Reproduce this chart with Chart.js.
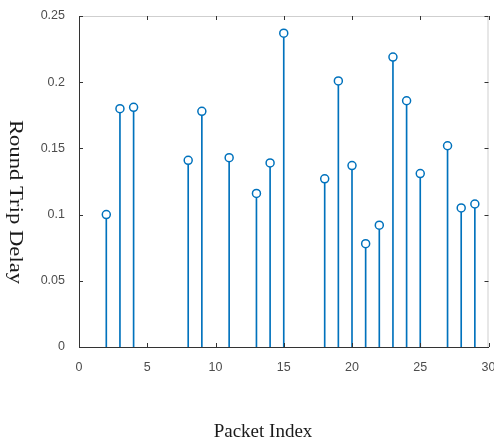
<!DOCTYPE html>
<html>
<head>
<meta charset="utf-8">
<script src="https://cdn.jsdelivr.net/npm/chart.js@4/dist/chart.umd.min.js"></script>
<style>
  html, body { margin: 0; padding: 0; background: #fff; }
  #wrap { width: 494px; height: 441px; }
</style>
</head>
<body>
<div id="wrap"><canvas id="stemChart" width="494" height="441"></canvas></div>
<script>
// packet index on x, round trip delay on y
const packetIndex = [2, 3, 4, 8, 9, 11, 13, 14, 15, 18, 19, 20, 21, 22, 23, 24, 25, 27, 28, 29];
const roundTripDelay = [0.100, 0.180, 0.181, 0.141, 0.178, 0.143, 0.116, 0.139, 0.237, 0.127,
                        0.201, 0.137, 0.078, 0.092, 0.219, 0.186, 0.131, 0.152, 0.105, 0.108];
const xTicks = [0, 5, 10, 15, 20, 25, 30];
const yTicks = [0, 0.05, 0.1, 0.15, 0.2, 0.25];

const stemColor = 'rgb(0, 114, 189)';
const points = packetIndex.map((x, i) => ({ x: x, y: roundTripDelay[i] }));

// box, inward ticks and the two axis titles (MATLAB look)
const matlabAxes = {
  id: 'matlabAxes',
  afterDraw(chart) {
    const ctx = chart.ctx;
    const a = chart.chartArea;
    const xs = chart.scales.x, ys = chart.scales.y;
    ctx.save();
    ctx.lineWidth = 1;
    ctx.strokeStyle = '#cfcfcf';
    ctx.beginPath();
    ctx.moveTo(a.left, a.top + 0.5);
    ctx.lineTo(a.right - 0.5, a.top + 0.5);
    ctx.lineTo(a.right - 0.5, a.bottom);
    ctx.stroke();

    ctx.strokeStyle = '#333';
    ctx.beginPath();
    xTicks.forEach(v => {
      const px = Math.round(xs.getPixelForValue(v)) + 0.5;
      ctx.moveTo(px, a.bottom); ctx.lineTo(px, a.bottom - 4);
      ctx.moveTo(px, a.top); ctx.lineTo(px, a.top + 4);
    });
    yTicks.forEach(v => {
      const py = Math.round(ys.getPixelForValue(v)) + 0.5;
      ctx.moveTo(a.left, py); ctx.lineTo(a.left + 4, py);
      ctx.moveTo(a.right, py); ctx.lineTo(a.right - 4, py);
    });
    ctx.stroke();

    ctx.fillStyle = '#1a1a1a';
    ctx.textAlign = 'center';
    ctx.textBaseline = 'alphabetic';
    ctx.font = '19px "Liberation Serif"';
    ctx.fillText('Packet Index', 263, 437);

    ctx.translate(15, 202);
    ctx.rotate(Math.PI / 2);
    ctx.scale(1.26, 1);
    ctx.textBaseline = 'middle';
    ctx.font = '18px "Liberation Serif"';
    ctx.fillText('Round Trip Delay', 0, 0);
    ctx.restore();
  }
};

new Chart(document.getElementById('stemChart'), {
  type: 'bar',
  data: {
    datasets: [
      {
        type: 'scatter',
        data: points,
        pointStyle: 'circle',
        pointRadius: 4,
        pointBorderWidth: 1.5,
        pointBorderColor: stemColor,
        pointBackgroundColor: '#fff',
        order: 0
      },
      {
        type: 'bar',
        data: points,
        backgroundColor: stemColor,
        barThickness: 1,
        order: 1
      }
    ]
  },
  options: {
    responsive: false,
    animation: false,
    layout: { padding: { left: 0, top: 16, right: 5, bottom: 0 } },
    plugins: { legend: { display: false }, tooltip: { enabled: false } },
    scales: {
      x: {
        type: 'linear',
        min: 0, max: 30,
        offset: false,
        afterBuildTicks: s => { s.ticks = xTicks.map(v => ({ value: v })); },
        afterFit: s => { s.height = 94; s.paddingLeft = 0; s.paddingRight = 0; },
        grid: { display: false, offset: false },
        border: { display: true, color: '#333', width: 1 },
        ticks: {
          color: '#4d4d4d', padding: 5, maxRotation: 0,
          font: { family: 'Liberation Sans', size: 12.5 }
        }
      },
      y: {
        min: 0, max: 0.25,
        afterBuildTicks: s => { s.ticks = yTicks.map(v => ({ value: v })); },
        afterFit: s => { s.width = 79; s.paddingTop = 0; s.paddingBottom = 0; },
        grid: { display: false },
        border: { display: true, color: '#333', width: 1 },
        ticks: {
          color: '#4d4d4d', padding: 6,
          font: { family: 'Liberation Sans', size: 12.5 },
          callback: v => String(Number(v.toFixed(2)))
        }
      }
    }
  },
  plugins: [matlabAxes]
});
</script>
</body>
</html>
